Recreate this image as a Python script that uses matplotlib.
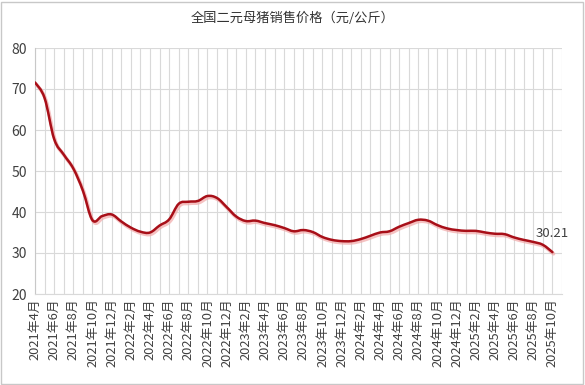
import matplotlib.pyplot as plt
import matplotlib.patheffects as pe
from matplotlib.patches import Rectangle, PathPatch
from matplotlib.path import Path

plt.rcParams['font.family'] = ['Noto Sans CJK SC', 'DejaVu Sans']

# 月份标签 (2021年4月 ~ 2025年10月)
months = []
for y in range(2021, 2026):
    for m in range(1, 13):
        if (y == 2021 and m < 4) or (y == 2025 and m > 10):
            continue
        months.append(f'{y}年{m}月')

prices = [71.6, 67.8, 57.8, 54.0, 50.6, 45.2, 38.0, 39.0, 39.4, 37.7,
          36.2, 35.2, 35.0, 36.7, 38.2, 42.0, 42.5, 42.7, 43.9, 43.4,
          41.2, 38.9, 37.8, 37.9, 37.3, 36.8, 36.1, 35.3, 35.6, 35.1,
          33.9, 33.2, 32.9, 32.9, 33.4, 34.2, 35.0, 35.3, 36.4, 37.3,
          38.1, 37.9, 36.8, 36.0, 35.6, 35.4, 35.4, 35.0, 34.7, 34.6,
          33.8, 33.2, 32.7, 32.0, 30.21]

fig = plt.figure(figsize=(5.85, 3.85), dpi=100)
ax = fig.add_axes([35 / 585, 91 / 385, 527 / 585, 246 / 385])

x = list(range(len(months)))

# 平滑曲线 (Catmull-Rom -> Bezier)
verts = [(x[0], prices[0])]
codes = [Path.MOVETO]
t = 0.18
for i in range(len(x) - 1):
    p0 = (x[max(i - 1, 0)], prices[max(i - 1, 0)])
    p1 = (x[i], prices[i])
    p2 = (x[i + 1], prices[i + 1])
    p3 = (x[min(i + 2, len(x) - 1)], prices[min(i + 2, len(x) - 1)])
    c1 = (p1[0] + (p2[0] - p0[0]) * t, p1[1] + (p2[1] - p0[1]) * t)
    c2 = (p2[0] - (p3[0] - p1[0]) * t, p2[1] - (p3[1] - p1[1]) * t)
    verts += [c1, c2, p2]
    codes += [Path.CURVE4] * 3

curve = PathPatch(Path(verts, codes), facecolor='none', edgecolor='#a80f18', lw=1.8,
                  capstyle='round', joinstyle='round', zorder=3,
                  path_effects=[pe.SimpleLineShadow(offset=(0.8, -1.2), shadow_color='#f2a8a8',
                                                    alpha=0.7, linewidth=2.6),
                                pe.Normal()])
ax.add_patch(curve)

ax.annotate(f'{prices[-1]:.2f}', xy=(x[-1], prices[-1]), xytext=(0, 9),
            textcoords='offset points', ha='center', va='bottom',
            fontsize=9.5, color='#404040', zorder=4)

ax.set_xlim(0, len(months))
ax.set_ylim(20, 80)
ax.set_yticks(range(20, 81, 10))
ax.set_xticks(range(0, len(months) + 1))
ax.set_xticklabels([months[i] if (i < len(months) and i % 2 == 0) else '' for i in range(len(months) + 1)],
                   rotation=90, fontsize=9.3, color='#404040')
ax.tick_params(axis='y', labelsize=10, labelcolor='#404040', length=0, pad=6)
ax.tick_params(axis='x', length=0, pad=3)

ax.grid(True, color='#d9d9d9', lw=0.8)
ax.set_axisbelow(True)
for s in ['top', 'right']:
    ax.spines[s].set_visible(False)
ax.spines['left'].set_color('#c8c8c8')
ax.spines['bottom'].set_color('#d9d9d9')

fig.text(0.5, 1 - 18 / 385, '全国二元母猪销售价格（元/公斤）', ha='center', va='center',
         fontsize=9.5, color='#333333')

fig.patches.append(Rectangle((0.002, 0.003), 0.994, 0.992, transform=fig.transFigure,
                             fill=False, edgecolor='#c8c8c8', lw=1))

fig.savefig('out.png', dpi=100)
